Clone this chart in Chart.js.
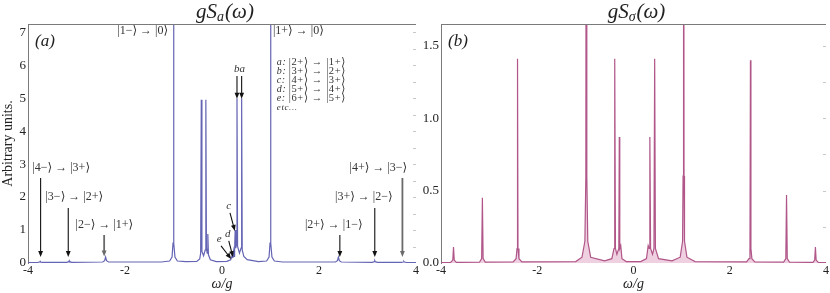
<!DOCTYPE html>
<html>
<head>
<meta charset="utf-8">
<script src="https://cdn.jsdelivr.net/npm/chart.js@4.4.1/dist/chart.umd.min.js"></script>
<style>
  html, body { margin: 0; padding: 0; background: #fff; }
  #wrap { position: relative; width: 830px; height: 293px; }
  #panelA { position: absolute; left: 0; top: 0; }
  #panelB { position: absolute; left: 410px; top: 0; }
</style>
</head>
<body>
<div id="wrap">
  <canvas id="panelA" width="420" height="293"></canvas>
  <canvas id="panelB" width="420" height="293"></canvas>
</div>
<script>
// ---- data: [omega/g, intensity] ----
const spectrumA = [
  [-4, 0.01], [-3.8, 0.02], [-3.76, 0.03], [-3.75, 0.05], [-3.74, 0.03], [-3.7, 0.02],
  [-3.2, 0.02], [-3.16, 0.04], [-3.15, 0.07], [-3.14, 0.04], [-3.1, 0.02],
  [-2.46, 0.03], [-2.42, 0.07], [-2.4, 0.18], [-2.38, 0.07], [-2.34, 0.03],
  [-1.25, 0.03], [-1.08, 0.06], [-1.03, 0.18], [-1.01, 0.6], [-1.0, 20], [-0.99, 0.6], [-0.97, 0.18], [-0.92, 0.06],
  [-0.75, 0.04], [-0.52, 0.05], [-0.46, 0.12], [-0.44, 0.3], [-0.427, 4.95], [-0.414, 0.35],
  [-0.38, 0.22], [-0.345, 0.4], [-0.333, 4.95], [-0.321, 0.45], [-0.305, 0.3], [-0.292, 0.88], [-0.28, 0.25],
  [-0.24, 0.1], [-0.12, 0.04], [0.1, 0.05], [0.18, 0.1], [0.215, 0.25], [0.225, 0.15], [0.24, 0.35],
  [0.25, 0.2], [0.26, 0.4], [0.272, 1.0], [0.285, 0.45], [0.297, 0.55], [0.309, 5.0], [0.321, 0.5],
  [0.36, 0.3], [0.393, 0.45], [0.405, 5.0], [0.417, 0.4], [0.45, 0.2], [0.52, 0.1], [0.75, 0.04],
  [0.92, 0.06], [0.97, 0.18], [0.99, 0.6], [1.0, 20], [1.01, 0.6], [1.03, 0.18], [1.08, 0.06], [1.25, 0.03],
  [2.34, 0.03], [2.38, 0.07], [2.4, 0.18], [2.42, 0.07], [2.46, 0.03],
  [3.1, 0.02], [3.14, 0.04], [3.15, 0.07], [3.16, 0.04], [3.2, 0.02],
  [3.7, 0.02], [3.74, 0.03], [3.75, 0.05], [3.76, 0.03], [3.8, 0.02], [4, 0.01]
];

const spectrumB = [
  [-4, 0.002], [-3.8, 0.004], [-3.755, 0.02], [-3.74, 0.11], [-3.725, 0.02], [-3.68, 0.004],
  [-3.2, 0.005], [-3.155, 0.03], [-3.14, 0.45], [-3.125, 0.03], [-3.08, 0.006],
  [-2.5, 0.008], [-2.44, 0.03], [-2.42, 0.1], [-2.41, 1.41], [-2.4, 0.1], [-2.38, 0.03], [-2.32, 0.008],
  [-1.2, 0.01], [-1.07, 0.04], [-1.01, 0.15], [-0.99, 0.6], [-0.98, 5], [-0.97, 0.6], [-0.95, 0.15], [-0.89, 0.04],
  [-0.6, 0.015], [-0.45, 0.03], [-0.405, 0.1], [-0.39, 1.41], [-0.375, 0.1], [-0.345, 0.06],
  [-0.305, 0.1], [-0.295, 0.87], [-0.285, 0.1], [-0.265, 0.12], [-0.24, 0.03], [-0.15, 0.01],
  [0.15, 0.01], [0.27, 0.03], [0.305, 0.12], [0.325, 0.1], [0.34, 0.87], [0.355, 0.1],
  [0.395, 0.06], [0.425, 0.1], [0.44, 1.41], [0.455, 0.1], [0.52, 0.03], [0.8, 0.015],
  [0.97, 0.04], [1.02, 0.15], [1.03, 0.6], [1.04, 5], [1.05, 0.6], [1.06, 0.15], [1.11, 0.04], [1.28, 0.01],
  [2.35, 0.008], [2.4, 0.03], [2.42, 0.1], [2.43, 1.4], [2.44, 0.1], [2.46, 0.03], [2.52, 0.008],
  [3.12, 0.006], [3.165, 0.03], [3.18, 0.47], [3.195, 0.03], [3.24, 0.006],
  [3.73, 0.004], [3.765, 0.02], [3.78, 0.11], [3.795, 0.02], [3.84, 0.004], [4, 0.002]
];

const xTicks = [-4, -2, 0, 2, 4];
const yTicksA = [0, 1, 2, 3, 4, 5, 6, 7];
const yTicksB = [0, 0.5, 1.0, 1.5];

// transition labels (data coords) for panel (a)
const ketLabels = [
  { text: '|1−⟩ → |0⟩', x: -1.11, y: 6.95, align: 'right' },
  { text: '|1+⟩ → |0⟩', x: 1.05, y: 6.95, align: 'left' },
  { text: '|4−⟩ → |3+⟩', x: -3.91, y: 2.78, align: 'left' },
  { text: '|3−⟩ → |2+⟩', x: -3.64, y: 1.9, align: 'left' },
  { text: '|2−⟩ → |1+⟩', x: -3.02, y: 1.05, align: 'left' },
  { text: '|2+⟩ → |1−⟩', x: 1.71, y: 1.05, align: 'left' },
  { text: '|3+⟩ → |2−⟩', x: 2.33, y: 1.9, align: 'left' },
  { text: '|4+⟩ → |3−⟩', x: 2.63, y: 2.78, align: 'left' }
];

const legendKeys = ['a:', 'b:', 'c:', 'd:', 'e:'];
const legendKets = ['|2+⟩ → |1+⟩', '|3+⟩ → |2+⟩', '|4+⟩ → |3+⟩', '|5+⟩ → |4+⟩', '|6+⟩ → |5+⟩'];

const arrows = [
  { x0: -3.74, y0: 2.58, x1: -3.74, y1: 0.18, gray: false },
  { x0: -3.17, y0: 1.67, x1: -3.17, y1: 0.18, gray: false },
  { x0: -2.43, y0: 0.85, x1: -2.43, y1: 0.2, gray: true },
  { x0: 2.43, y0: 0.85, x1: 2.43, y1: 0.18, gray: false },
  { x0: 3.15, y0: 1.67, x1: 3.15, y1: 0.18, gray: false },
  { x0: 3.72, y0: 2.58, x1: 3.72, y1: 0.18, gray: true },
  { x0: 0.309, y0: 5.67, x1: 0.309, y1: 4.98, gray: false },
  { x0: 0.405, y0: 5.67, x1: 0.405, y1: 4.98, gray: false },
  { x0: 0.165, y0: 1.52, x1: 0.265, y1: 0.97, gray: false },
  { x0: 0.14, y0: 0.67, x1: 0.225, y1: 0.18, gray: false },
  { x0: -0.02, y0: 0.52, x1: 0.19, y1: 0.12, gray: false }
];

const letterLabels = [
  { text: 'ba', x: 0.36, y: 5.8 },
  { text: 'c', x: 0.14, y: 1.65 },
  { text: 'd', x: 0.12, y: 0.8 },
  { text: 'e', x: -0.06, y: 0.65 }
];

const SERIF = "'Liberation Serif', 'DejaVu Serif', serif";

/* =========================
   DESENHO EXTRA (títulos, moldura, anotações)
========================= */

function drawArrow(ctx, x0, y0, x1, y1, gray) {
    const ang = Math.atan2(y1 - y0, x1 - x0);
    const head = 6, half = 2.4;
    ctx.save();
    ctx.strokeStyle = gray ? '#6a6a6a' : '#111';
    ctx.fillStyle = gray ? '#6a6a6a' : '#111';
    ctx.lineWidth = gray ? 1.8 : 1.1;
    ctx.beginPath();
    ctx.moveTo(x0, y0);
    ctx.lineTo(x1 - Math.cos(ang) * head * 0.8, y1 - Math.sin(ang) * head * 0.8);
    ctx.stroke();
    ctx.beginPath();
    ctx.moveTo(x1, y1);
    ctx.lineTo(x1 - Math.cos(ang) * head + Math.sin(ang) * half, y1 - Math.sin(ang) * head - Math.cos(ang) * half);
    ctx.lineTo(x1 - Math.cos(ang) * head - Math.sin(ang) * half, y1 - Math.sin(ang) * head + Math.cos(ang) * half);
    ctx.closePath();
    ctx.fill();
    ctx.restore();
}

const framePlugin = {
    id: 'frame',
    afterDraw(chart, args, opts) {
        const ctx = chart.ctx;
        const a = chart.chartArea;
        const sx = chart.scales.x, sy = chart.scales.y;
        ctx.save();

        // top frame line
        ctx.strokeStyle = '#7a7a7a';
        ctx.lineWidth = 1;
        ctx.beginPath();
        ctx.moveTo(a.left, a.top + 0.5);
        ctx.lineTo(a.right, a.top + 0.5);
        ctx.stroke();

        // faint ticks on the right edge
        ctx.strokeStyle = '#c8c8c8';
        opts.rightTicks.forEach(v => {
            const y = Math.round(sy.getPixelForValue(v)) + 0.5;
            ctx.beginPath();
            ctx.moveTo(a.right - 3, y);
            ctx.lineTo(a.right, y);
            ctx.stroke();
        });

        // title gS_x(ω)
        ctx.fillStyle = '#222';
        ctx.textBaseline = 'alphabetic';
        ctx.textAlign = 'left';
        const big = 'italic 21px ' + SERIF;
        const small = 'italic 14px ' + SERIF;
        ctx.font = big;
        const w1 = ctx.measureText('gS').width;
        const w3 = ctx.measureText('(ω)').width;
        ctx.font = small;
        const w2 = ctx.measureText(opts.sub).width + 1;
        let x = (a.left + a.right) / 2 + 3 - (w1 + w2 + w3) / 2;
        const base = 18;
        ctx.font = big;
        ctx.fillText('gS', x, base);
        ctx.font = small;
        ctx.fillText(opts.sub, x + w1, base + 3);
        ctx.font = big;
        ctx.fillText('(ω)', x + w1 + w2, base);

        // panel letter
        ctx.font = 'italic 17px ' + SERIF;
        ctx.fillText(opts.panel, a.left + 7, 46);

        if (opts.annotate) {
            ctx.font = '12px ' + SERIF;
            ctx.fillStyle = '#333';
            ketLabels.forEach(l => {
                ctx.textAlign = l.align;
                ctx.fillText(l.text, sx.getPixelForValue(l.x), sy.getPixelForValue(l.y));
            });

            // legend of the small peaks
            ctx.textAlign = 'left';
            ctx.letterSpacing = '0.6px';
            const lx = sx.getPixelForValue(1.13);
            legendKeys.forEach((k, i) => {
                const ly = sy.getPixelForValue(6.0) + i * 9;
                ctx.font = 'italic 10px ' + SERIF;
                ctx.fillText(k, lx, ly);
                ctx.font = '10.5px ' + SERIF;
                ctx.fillText(legendKets[i], lx + 12, ly);
            });
            ctx.font = 'italic 9px ' + SERIF;
            ctx.fillText('etc...', lx, sy.getPixelForValue(6.0) + 5 * 9);
            ctx.letterSpacing = '0px';

            ctx.font = 'italic 11px ' + SERIF;
            ctx.textAlign = 'center';
            letterLabels.forEach(l => {
                ctx.fillText(l.text, sx.getPixelForValue(l.x), sy.getPixelForValue(l.y));
            });

            arrows.forEach(r => {
                drawArrow(ctx, sx.getPixelForValue(r.x0), sy.getPixelForValue(r.y0),
                    sx.getPixelForValue(r.x1), sy.getPixelForValue(r.y1), r.gray);
            });
        }
        ctx.restore();
    }
};

function criarPainel(id, cfg) {
    return new Chart(document.getElementById(id), {
        type: 'scatter',
        data: {
            datasets: [{
                data: cfg.points.map(p => ({ x: p[0], y: p[1] })),
                showLine: true,
                pointRadius: 0,
                borderColor: cfg.line,
                borderWidth: 1.2,
                backgroundColor: cfg.fill,
                fill: cfg.fill ? 'origin' : false,
                tension: 0
            }]
        },
        options: {
            responsive: false,
            animation: false,
            layout: { padding: { top: 24, right: cfg.padRight, left: 0, bottom: 0 } },
            plugins: {
                legend: { display: false },
                tooltip: { enabled: false },
                frame: cfg.frame
            },
            scales: {
                x: {
                    type: 'linear',
                    min: -4, max: 4,
                    afterFit: s => { s.height = 30; },
                    afterBuildTicks: s => { s.ticks = xTicks.map(v => ({ value: v })); },
                    ticks: { color: '#222', padding: 1, font: { family: SERIF, size: 12 }, maxRotation: 0 },
                    grid: { display: false, drawTicks: false, tickLength: 0 },
                    border: { display: false },
                    title: { display: true, text: 'ω/g', color: '#222', padding: 0, font: { family: SERIF, size: 14, style: 'italic' } }
                },
                y: {
                    min: 0, max: cfg.yMax,
                    afterFit: s => { s.width = cfg.yWidth; },
                    afterBuildTicks: s => { s.ticks = cfg.yTicks.map(v => ({ value: v })); },
                    ticks: { color: '#222', padding: 2, font: { family: SERIF, size: 13 }, callback: cfg.fmt },
                    grid: { display: false, drawTicks: false, tickLength: 0 },
                    border: { display: true, color: '#7a7a7a', width: 1 },
                    title: { display: !!cfg.yTitle, text: cfg.yTitle || '', color: '#222', padding: 0, font: { family: SERIF, size: 14 } }
                }
            }
        },
        plugins: [framePlugin]
    });
}

criarPainel('panelA', {
    points: spectrumA,
    line: 'rgb(100, 100, 180)',
    fill: null,
    yMax: 7.25,
    yTicks: yTicksA,
    yWidth: 28,
    padRight: 3,
    yTitle: 'Arbitrary units.',
    fmt: v => String(v),
    frame: { sub: 'a', panel: '(a)', annotate: true, rightTicks: [0.5, 1, 1.5, 2, 2.5, 3, 3.5, 4, 4.5, 5, 5.5, 6, 6.5, 7] }
});

criarPainel('panelB', {
    points: spectrumB,
    line: 'rgb(176, 86, 136)',
    fill: 'rgba(225, 170, 200, 0.55)',
    yMax: 1.65,
    yTicks: yTicksB,
    yWidth: 31,
    padRight: 4,
    yTitle: null,
    fmt: v => v.toFixed(1),
    frame: { sub: 'σ', panel: '(b)', annotate: false, rightTicks: [0.25, 0.5, 0.75, 1.0, 1.25, 1.5] }
});
</script>
</body>
</html>
